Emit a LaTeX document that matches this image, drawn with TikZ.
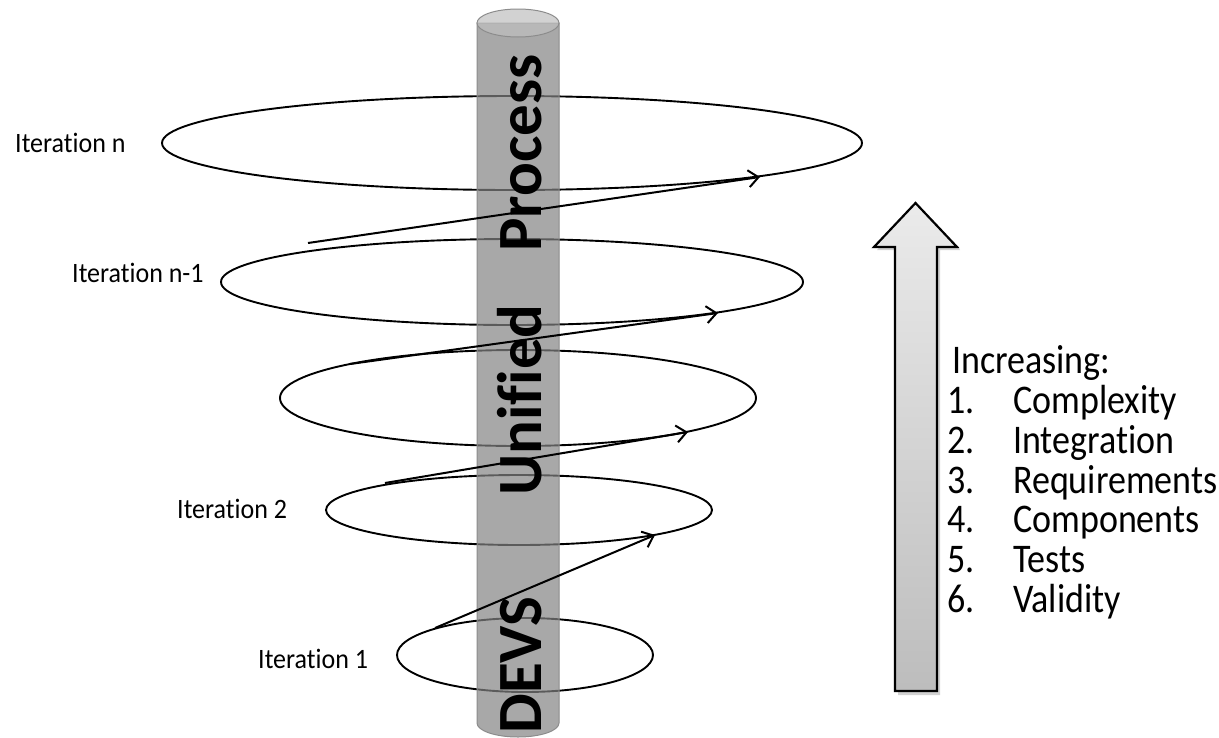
\documentclass[tikz,border=0pt]{standalone}
\usepackage{fontspec}
\setmainfont{Carlito}[Ligatures={NoCommon,NoContextual}]
\usetikzlibrary{arrows.meta,shapes.geometric}
\definecolor{cylbody}{RGB}{131,131,131}
\definecolor{cyltop}{RGB}{191,191,191}
\definecolor{cylline}{RGB}{140,140,140}
\newcommand{\tallA}[1]{\scalebox{1}[1.08]{#1}}
\newcommand{\tallB}[1]{\scalebox{1}[1.13]{#1}}
\begin{document}
\begin{tikzpicture}[x=1pt,y=-1pt,
  ring/.style={draw=black, line width=1.9pt, ellipse, inner sep=0pt, outer sep=0pt},
  lbl/.style={anchor=west, inner sep=0pt, font=\fontsize{26}{30}\selectfont},
  spiral/.style={draw=black, line width=2pt, -{Straight Barb[length=10pt,width=17pt,line width=2pt]}},
  listtxt/.style={anchor=base west, inner sep=0pt, font=\fontsize{36}{40}\selectfont},
  cylword/.style={rotate=90, anchor=base, inner sep=0pt, font=\fontsize{63}{70}\selectfont\bfseries},
  cylfill/.style={fill=cylbody, fill opacity=0.7, draw=cylline, line width=1pt},
  bigarrow/.style={draw=black, line width=2.2pt, line join=miter, top color=white!92!black, bottom color=white!74!black}
]
\useasboundingbox (0,0) rectangle (1219,737);

% ellipses (iterations)
\node[ring, minimum width=700pt, minimum height=94pt] (e1) at (512,143) {};
\node[ring, minimum width=582pt, minimum height=86pt] (e2) at (512,282) {};
\node[ring, minimum width=476pt, minimum height=96pt] (e3) at (518,398) {};
\node[ring, minimum width=386pt, minimum height=70pt] (e4) at (519,510) {};
\node[ring, minimum width=256pt, minimum height=74pt] (e5) at (525,655) {};

% cylinder
\path[cylfill] (477,23) -- (477,723) arc[start angle=180, end angle=0, x radius=41, y radius=14] -- (559,23) -- cycle;
\path[fill=cyltop, fill opacity=0.7, draw=cylline, line width=1pt] (518,23) ellipse [x radius=41, y radius=14];

\node[cylword] (w1) at (541,665) {DEVS};
\node[cylword] (w2) at (541,400) {Unified};
\node[cylword] (w3) at (541,153) {Process};

% spiral arrows
\coordinate (s1) at (435,628);
\coordinate (t1) at (655,535);
\coordinate (s2) at (385,483);
\coordinate (t2) at (688,432);
\coordinate (s3) at (350,364);
\coordinate (t3) at (718,313);
\coordinate (s4) at (308,243);
\coordinate (t4) at (760,177);
\draw[spiral] (s1) -- (t1);
\draw[spiral] (s2) -- (t2);
\draw[spiral] (s3) -- (t3);
\draw[spiral] (s4) -- (t4);

% labels
\node[lbl] (l1) at (15,143) {\tallA{Iteration n}};
\node[lbl] (l2) at (72,273) {\tallA{Iteration n-1}};
\node[lbl] (l3) at (177,509) {\tallA{Iteration 2}};
\node[lbl] (l4) at (258,659) {\tallA{Iteration 1}};

% big arrow
\path[fill=black, opacity=0.18] (877,250) -- (919,206) -- (960,250) -- (940,250) -- (940,695) -- (898,695) -- (898,250) -- cycle;
\path[bigarrow] (874,247) -- (915.5,203) -- (957,247) -- (937,247) -- (937,691) -- (895,691) -- (895,247) -- cycle;

% list
\node[listtxt] (inc) at (952,373) {\tallB{Increasing:}};
\node[listtxt] (n1) at (947,413) {\tallB{1.}};
\node[listtxt] (i1) at (1013,413) {\tallB{Complexity}};
\node[listtxt] (n2) at (947,453) {\tallB{2.}};
\node[listtxt] (i2) at (1013,453) {\tallB{Integration}};
\node[listtxt] (n3) at (947,493) {\tallB{3.}};
\node[listtxt] (i3) at (1013,493) {\tallB{Requirements}};
\node[listtxt] (n4) at (947,532) {\tallB{4.}};
\node[listtxt] (i4) at (1013,532) {\tallB{Components}};
\node[listtxt] (n5) at (947,572) {\tallB{5.}};
\node[listtxt] (i5) at (1013,572) {\tallB{Tests}};
\node[listtxt] (n6) at (947,612) {\tallB{6.}};
\node[listtxt] (i6) at (1013,612) {\tallB{Validity}};
\end{tikzpicture}
\end{document}
